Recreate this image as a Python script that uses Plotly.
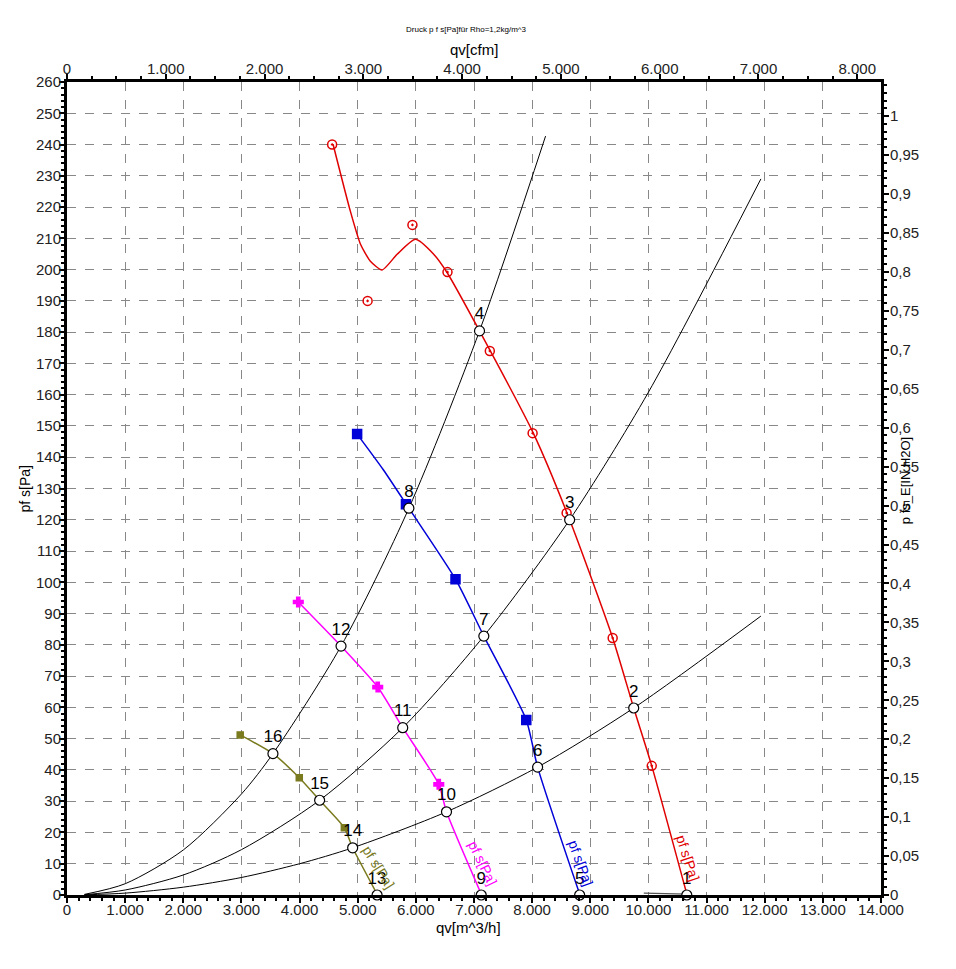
import plotly.graph_objects as go

# ---------------- data ----------------
# fan curve 1 (red)
red_line_x = [4576, 4873, 5046, 5218, 5419, 5678, 5993, 6303, 6539, 7095, 8020, 8645, 9385, 9747, 10057, 10660]
red_line_y = [240.1, 218.7, 208.2, 202.7, 199.9, 204.9, 209.7, 205.0, 199.0, 180.4, 147.7, 120.0, 82.2, 59.8, 41.3, 0.3]
red_mark_x = [4560, 5170, 5941, 6544, 7272, 8008, 8593, 9385, 10057]
red_mark_y = [240.0, 190.0, 214.3, 199.2, 174.0, 147.7, 122.2, 82.2, 41.3]
red_tail_x = [9920, 10660]
red_tail_y = [0.6, 0.3]

# fan curve 2 (blue)
blue_line_x = [4990, 5440, 5880, 6682, 7169, 7899, 8094, 8817]
blue_line_y = [147.4, 136.0, 123.7, 101.0, 82.8, 56.0, 40.9, 0.3]
blue_mark_x = [4990, 5830, 6682, 7899]
blue_mark_y = [147.4, 125.0, 101.0, 56.0]

# fan curve 3 (magenta)
mag_line_x = [3978, 4713, 5344, 5774, 6394, 6527, 7124]
mag_line_y = [93.7, 79.6, 66.5, 53.5, 35.4, 26.6, 0.3]
mag_mark_x = [3978, 5344, 6394]
mag_mark_y = [93.7, 66.5, 35.4]

# fan curve 4 (olive)
oli_line_x = [2979, 3542, 3995, 4345, 4770, 4913, 5333]
oli_line_y = [51.2, 45.2, 37.5, 30.3, 21.5, 15.1, 0.3]
oli_mark_x = [2979, 3995, 4770]
oli_mark_y = [51.2, 37.5, 21.5]

# system curves (black)
sysA_x = [300, 1000, 2000, 3000, 3542, 4713, 5880, 7095, 8231]
sysA_y = [0.2, 3.6, 14.4, 32.3, 45.2, 79.6, 123.7, 180.4, 242.7]
sysB_x = [300, 1000, 2000, 3000, 4345, 5774, 7169, 8645, 10000, 11934]
sysB_y = [0.1, 1.6, 6.4, 14.5, 30.3, 53.5, 82.8, 120.0, 160.8, 229.0]
sysC_x = [300, 1000, 2000, 3000, 4000, 4913, 6527, 8094, 9747, 11934]
sysC_y = [0.05, 0.6, 2.5, 5.6, 10.0, 15.1, 26.6, 40.9, 59.8, 89.2]

# operating points 1..16
op_x = [10660, 9747, 8645, 7095, 8817, 8094, 7169, 5880, 7124, 6527, 5774, 4713, 5333, 4913, 4345, 3542]
op_y = [0.0, 59.8, 120.0, 180.4, 0.0, 40.9, 82.8, 123.7, 0.0, 26.6, 53.5, 79.6, 0.0, 15.1, 30.3, 45.2]
op_labels = [str(i) for i in range(1, 17)]

# curve labels
curve_label_text = "pf s[Pa]"
curve_label_x = [10677, 8834, 7147, 5356]
curve_label_y = [11.8, 10.2, 10.2, 9.0]
curve_label_angle = [72, 70, 64, 58]

# axes
x_max = 14000
y_max = 260
cfm_factor = 1.699      # m^3/h per cfm
inh2o_factor = 249.0889  # Pa per in H2O

RED = "#e00000"
BLUE = "#0000d8"
MAG = "#ff00ff"
OLI = "#7a7a1e"
FONT = "Arial, Liberation Sans, sans-serif"

fig = go.Figure()

for xs, ys in [(sysA_x, sysA_y), (sysB_x, sysB_y), (sysC_x, sysC_y)]:
    fig.add_trace(go.Scatter(x=xs, y=ys, mode="lines",
                             line=dict(color="black", width=1, shape="spline", smoothing=0.8),
                             hoverinfo="skip"))

fig.add_trace(go.Scatter(x=red_tail_x, y=red_tail_y, mode="lines",
                         line=dict(color="#555555", width=1.2), hoverinfo="skip"))

curves = [
    (red_line_x, red_line_y, red_mark_x, red_mark_y, RED, "circle-open-dot", 9),
    (blue_line_x, blue_line_y, blue_mark_x, blue_mark_y, BLUE, "square", 9),
    (mag_line_x, mag_line_y, mag_mark_x, mag_mark_y, MAG, "cross", 8),
    (oli_line_x, oli_line_y, oli_mark_x, oli_mark_y, OLI, "square", 6),
]
for lx, ly, mx, my, col, sym, sz in curves:
    fig.add_trace(go.Scatter(x=lx, y=ly, mode="lines",
                             line=dict(color=col, width=1.5, shape="spline", smoothing=0.6),
                             hoverinfo="skip"))
    fig.add_trace(go.Scatter(x=mx, y=my, mode="markers",
                             marker=dict(symbol=sym, size=sz, color=col,
                                         line=dict(color=col, width=1.5)),
                             hoverinfo="skip"))

fig.add_trace(go.Scatter(x=op_x, y=op_y, mode="markers+text", text=op_labels,
                         textposition="top center",
                         textfont=dict(family=FONT, size=17, color="black"),
                         marker=dict(symbol="circle", size=10, color="white",
                                     line=dict(color="black", width=1.2)),
                         hoverinfo="skip", cliponaxis=False))

# invisible trace to activate secondary axes
fig.add_trace(go.Scatter(x=[0], y=[0], xaxis="x2", yaxis="y2", mode="markers",
                         marker=dict(opacity=0), hoverinfo="skip"))

for col, x, y, ang in zip([RED, BLUE, MAG, OLI], curve_label_x, curve_label_y, curve_label_angle):
    fig.add_annotation(x=x, y=y, text=curve_label_text, showarrow=False, textangle=ang,
                       font=dict(family=FONT, size=14, color=col), xanchor="center", yanchor="middle")

tickfont = dict(family=FONT, size=15, color="#222222")
axis_common = dict(showline=True, linecolor="black", linewidth=3, ticks="outside",
                   tickcolor="black", ticklen=5, tickwidth=1.5, tickfont=tickfont,
                   zeroline=False)

fig.update_layout(
    width=940, height=953,
    margin=dict(l=59, r=67, t=74, b=66),
    paper_bgcolor="white", plot_bgcolor="white",
    showlegend=False,
    separators=",.",
    font=dict(family=FONT),
    xaxis=dict(range=[0, x_max], dtick=1000, tickformat=",d", showgrid=True,
               gridcolor="#888888", griddash="dash", gridwidth=1, ticklabelstandoff=-6,
               minor=dict(dtick=200, ticks="outside", ticklen=3, tickcolor="black", showgrid=False),
               **axis_common),
    yaxis=dict(range=[0, y_max], dtick=10, showgrid=True,
               gridcolor="#888888", griddash="dash", gridwidth=1, ticklabelstandoff=-5,
               minor=dict(dtick=2, ticks="outside", ticklen=3, tickcolor="black", showgrid=False),
               **axis_common),
    xaxis2=dict(range=[0, x_max / cfm_factor], dtick=1000, tickformat=",d", overlaying="x",
                side="top", showgrid=False, ticklabelstandoff=-6,
                minor=dict(dtick=250, ticks="outside", ticklen=3, tickcolor="black", showgrid=False),
                **axis_common),
    yaxis2=dict(range=[0, y_max / inh2o_factor], dtick=0.05, overlaying="y", side="right",
                showgrid=False, ticklabelstandoff=-2,
                minor=dict(dtick=0.01, ticks="outside", ticklen=3, tickcolor="black", showgrid=False),
                **axis_common),
)

# axis titles and chart title
def note(x, y, text, size, angle=0):
    fig.add_annotation(xref="paper", yref="paper", x=x, y=y, text=text, textangle=angle,
                       xanchor="center", yanchor="middle", showarrow=False,
                       font=dict(family=FONT, size=size, color="black"))

note(0.4913, 1.0640, "Druck p f s[Pa]für Rho=1,2kg/m^3", 8)
note(0.4999, 1.0400, "qv[cfm]", 15)
note(0.4938, -0.0395, "qv[m^3/h]", 15)
note(-0.0516, 0.5, "pf s[Pa]", 14, -90)
note(1.0295, 0.509, "p fs_E[IN H2O]", 13, -90)

fig.write_html("out.html")
